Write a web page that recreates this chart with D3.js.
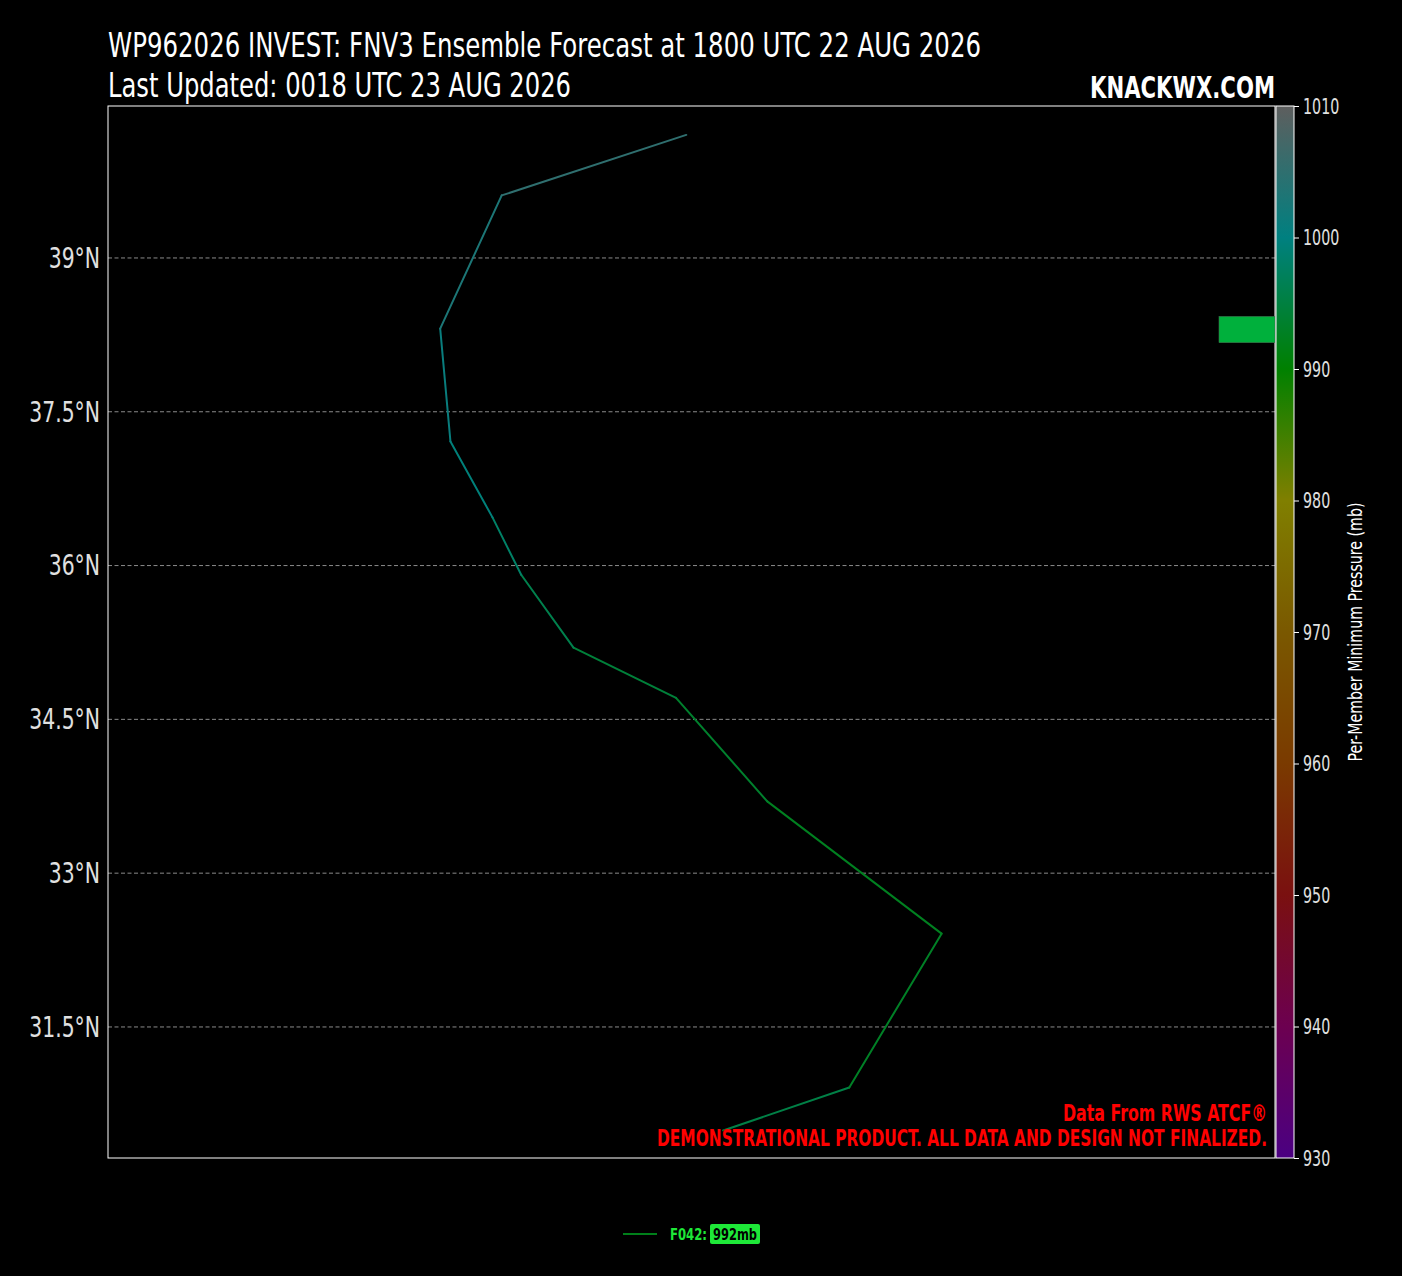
<!DOCTYPE html>
<html>
<head>
<meta charset="utf-8">
<script src="https://cdn.jsdelivr.net/npm/d3@7"></script>
<style>
  body { margin: 0; background: #000; }
  svg { display: block; }
  text { font-family: "DejaVu Sans Condensed", "DejaVu Sans", sans-serif; }
</style>
</head>
<body>
<div id="chart"></div>
<script>
// track of member F042, from first point (south) to last (north)
var trackLon = [137.00, 138.23, 139.13, 137.43, 136.54, 135.54, 135.03, 134.75, 134.34, 134.24, 134.84, 136.64];
var trackLat = [30.49, 30.91, 32.41, 33.70, 34.71, 35.20, 35.91, 36.47, 37.21, 38.31, 39.61, 40.20];
var trackPres = [997, 994, 992, 993, 994, 995, 997, 999, 1000, 1002, 1004, 1006];

var latTicks = [31.5, 33, 34.5, 36, 37.5, 39];
var presTicks = [930, 940, 950, 960, 970, 980, 990, 1000, 1010];
var presColors = ["#4b0082", "#6c0050", "#7a1010", "#7a3a00", "#7a5800", "#807f00", "#008000", "#008080", "#5e5e5e"];

// minimum pressure histogram (2 mb bins)
var histBins = [992];
var histCounts = [1];

var memberName = "F042";
var memberMin = 992;

var svgWidth = 1402;
var svgHeight = 1276;
var margin = {top: 106, right: 127, bottom: 118, left: 108};
var width = svgWidth - margin.left - margin.right;
var height = svgHeight - margin.top - margin.bottom;

// the chart font is a narrow one, squeeze the condensed fallback to match
function fit(sel, w) {
    sel.attr("textLength", w).attr("lengthAdjust", "spacingAndGlyphs");
}
function squeeze(sel, k) {
    sel.each(function() {
        var t = d3.select(this);
        t.attr("textLength", this.getComputedTextLength() * k).attr("lengthAdjust", "spacingAndGlyphs");
    });
}

var svg = d3.select("#chart")
    .append("svg")
    .attr("width", svgWidth)
    .attr("height", svgHeight)
    .style("background", "#000");

var x = d3.scaleLinear().domain([131, 142.382]).range([margin.left, margin.left + width]);
var y = d3.scaleLinear().domain([30.222, 40.482]).range([margin.top + height, margin.top]);
var pres = d3.scaleLinear().domain([930, 1010]).range([margin.top + height, margin.top]);
var presColor = d3.scaleLinear().domain(presTicks).range(presColors);

// titles
svg.append("text")
    .attr("x", margin.left).attr("y", 57)
    .attr("fill", "#fff").style("font-size", "33px")
    .text("WP962026 INVEST: FNV3 Ensemble Forecast at 1800 UTC 22 AUG 2026")
    .call(fit, 873);
svg.append("text")
    .attr("x", margin.left).attr("y", 97)
    .attr("fill", "#fff").style("font-size", "33px")
    .text("Last Updated: 0018 UTC 23 AUG 2026")
    .call(fit, 463);
svg.append("text")
    .attr("x", margin.left + width).attr("y", 98)
    .attr("text-anchor", "end")
    .attr("fill", "#fff").style("font-size", "31px").style("font-weight", "bold")
    .text("KNACKWX.COM")
    .call(fit, 185);

// gridlines
svg.append("g")
    .selectAll("line")
    .data(latTicks)
    .enter()
    .append("line")
    .attr("x1", margin.left).attr("x2", margin.left + width)
    .attr("y1", function(d) { return y(d); })
    .attr("y2", function(d) { return y(d); })
    .attr("stroke", "#9a9a9a")
    .attr("stroke-width", 0.9)
    .attr("stroke-dasharray", "4,2.5");

// latitude axis
var leftAxis = d3.axisLeft(y)
    .tickValues(latTicks)
    .tickSize(0)
    .tickPadding(8)
    .tickFormat(function(d) { return d + "°N"; });
var yAxis = svg.append("g")
    .attr("transform", "translate(" + margin.left + ",0)")
    .call(leftAxis);
yAxis.select(".domain").remove();
yAxis.selectAll("text")
    .attr("fill", "#e0e0e0")
    .style("font-family", "'DejaVu Sans Condensed', sans-serif")
    .style("font-weight", "200")
    .style("font-size", "29px")
    .call(squeeze, 0.78);

// track segments coloured by pressure
var track = trackLon.map(function(lon, i) {
    return {lon: lon, lat: trackLat[i], p: trackPres[i]};
});
var segs = d3.pairs(track);
svg.append("g")
    .selectAll("line")
    .data(segs)
    .enter()
    .append("line")
    .attr("x1", function(d) { return x(d[0].lon); })
    .attr("y1", function(d) { return y(d[0].lat); })
    .attr("x2", function(d) { return x(d[1].lon); })
    .attr("y2", function(d) { return y(d[1].lat); })
    .attr("stroke", function(d) { return presColor((d[0].p + d[1].p) / 2); })
    .attr("stroke-width", 2)
    .attr("stroke-linecap", "round");

// credit text
svg.append("text")
    .attr("x", margin.left + width - 8).attr("y", 1121)
    .attr("text-anchor", "end")
    .attr("fill", "#ff0000").style("font-size", "23px").style("font-weight", "bold")
    .text("Data From RWS ATCF®")
    .call(fit, 204);
svg.append("text")
    .attr("x", margin.left + width - 8).attr("y", 1146)
    .attr("text-anchor", "end")
    .attr("fill", "#ff0000").style("font-size", "23px").style("font-weight", "bold")
    .text("DEMONSTRATIONAL PRODUCT. ALL DATA AND DESIGN NOT FINALIZED.")
    .call(fit, 610);

// plot frame
svg.append("rect")
    .attr("x", margin.left).attr("y", margin.top)
    .attr("width", width).attr("height", height)
    .attr("fill", "none").attr("stroke", "#fff").attr("stroke-width", 1);

// histogram of member minimum pressure
var countScale = d3.scaleLinear().domain([0, 1]).range([0, 56]);
svg.append("g")
    .selectAll("rect")
    .data(histBins)
    .enter()
    .append("rect")
    .attr("x", function(d, i) { return margin.left + width - countScale(histCounts[i]); })
    .attr("y", function(d) { return pres(d + 2); })
    .attr("width", function(d, i) { return countScale(histCounts[i]); })
    .attr("height", function(d) { return pres(d) - pres(d + 2); })
    .attr("fill", "#00b03c")
    .attr("stroke", "#3c6e4c")
    .attr("stroke-width", 0.6);

// colorbar
var cbX = margin.left + width + 1;
var cbW = 18;
var defs = svg.append("defs");
var grad = defs.append("linearGradient")
    .attr("id", "cbgrad")
    .attr("x1", 0).attr("y1", 1).attr("x2", 0).attr("y2", 0);
grad.selectAll("stop")
    .data(presTicks)
    .enter()
    .append("stop")
    .attr("offset", function(d) { return (d - 930) / 80; })
    .attr("stop-color", function(d) { return presColor(d); });
svg.append("rect")
    .attr("x", cbX).attr("y", margin.top)
    .attr("width", cbW).attr("height", height)
    .attr("fill", "url(#cbgrad)")
    .attr("stroke", "#fff").attr("stroke-width", 1);

var cbAxis = d3.axisRight(pres)
    .tickValues(presTicks)
    .tickFormat(d3.format("d"))
    .tickSize(5)
    .tickPadding(4);
var cb = svg.append("g")
    .attr("transform", "translate(" + (cbX + cbW) + ",0)")
    .call(cbAxis);
cb.select(".domain").remove();
cb.selectAll(".tick line").attr("stroke", "#fff");
cb.selectAll("text")
    .attr("fill", "#e0e0e0")
    .style("font-family", "'DejaVu Sans Condensed', sans-serif")
    .style("font-weight", "200")
    .style("font-size", "22px")
    .call(squeeze, 0.72);

svg.append("text")
    .attr("transform", "translate(1362," + (margin.top + height / 2) + ") rotate(-90)")
    .attr("text-anchor", "middle")
    .attr("fill", "#fff").style("font-size", "20px")
    .text("Per-Member Minimum Pressure (mb)")
    .call(fit, 259);

// legend
var legend = svg.append("g").attr("transform", "translate(623,1234)");
legend.append("line")
    .attr("x1", 0).attr("x2", 34).attr("y1", 0).attr("y2", 0)
    .attr("stroke", presColor(memberMin)).attr("stroke-width", 2);
legend.append("text")
    .attr("x", 47).attr("y", 6)
    .attr("fill", "#1ee838").style("font-size", "16px").style("font-weight", "bold")
    .text(memberName + ":")
    .call(fit, 37);
legend.append("rect")
    .attr("x", 87).attr("y", -10).attr("width", 50).attr("height", 20)
    .attr("rx", 2)
    .attr("fill", "#1ee838");
legend.append("text")
    .attr("x", 112).attr("y", 6)
    .attr("text-anchor", "middle")
    .attr("fill", "#000").style("font-size", "16px").style("font-weight", "bold")
    .text(memberMin + "mb")
    .call(fit, 44);
</script>
</body>
</html>
